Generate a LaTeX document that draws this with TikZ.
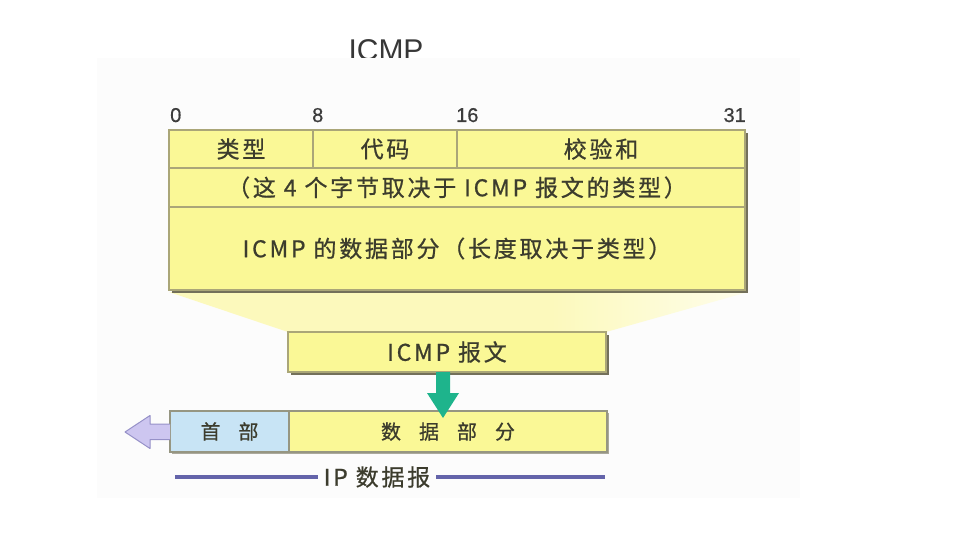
\documentclass[tikz,border=0pt]{standalone}
\usepackage{fontspec}
\setmainfont{Noto Sans CJK SC}[FakeBold=0.8]
\newfontfamily\cjkw[LetterSpace=12,FakeBold=0.8]{Noto Sans CJK SC}
\newfontfamily\lat{Liberation Sans}
\newfontfamily\latb[FakeBold=0.6]{Liberation Sans}
\usetikzlibrary{calc,backgrounds}
\definecolor{Yl}{RGB}{250,248,150}
\definecolor{Yp}{RGB}{252,249,188}
\definecolor{Bd}{RGB}{170,166,120}
\definecolor{Sh}{RGB}{115,112,90}
\definecolor{Tx}{RGB}{60,60,45}
\definecolor{Bl}{RGB}{200,228,245}
\definecolor{Gr}{RGB}{30,180,140}
\definecolor{Lv}{RGB}{205,198,240}
\definecolor{LvB}{RGB}{150,145,200}
\definecolor{Dm}{RGB}{100,100,170}
\definecolor{Bg}{RGB}{252,252,252}
\pgfdeclarehorizontalshading{trapfade}{100bp}{color(0bp)=(Yp); color(25bp)=(Yp); color(58bp)=(Yp); color(75bp)=(white!70!Yp); color(100bp)=(white!70!Yp)}
\tikzset{
  cell/.style={draw=Bd, line width=1.2pt, fill=Yl, inner sep=0pt, outer sep=0pt, anchor=north west,
    text=Tx, font=\cjkw\fontsize{23}{23}\selectfont},
  ipcell/.style={cell, draw={rgb,255:red,150;green,150;blue,130}, line width=1.5pt, font=\fontsize{20}{20}\selectfont},
  bitlbl/.style={inner sep=0pt, text={rgb,255:red,60;green,60;blue,60}, font=\latb\fontsize{20}{20}\selectfont},
  dimline/.style={draw=Dm, line width=3.5pt},
  shadowbox/.style={fill=Sh}
}
\begin{document}
\begin{tikzpicture}[x=1pt,y=-1pt]
\useasboundingbox (0,0) rectangle (960,540);
% shadows
\fill[shadowbox] (172,133) rectangle (748,293);
\fill[shadowbox] (291,335) rectangle (609,375);
\fill[Sh!60!white] (172,413) rectangle (609,454);
% main box
\node[cell, minimum width=144pt, minimum height=38pt] (r1a) at (169,130) {类型};
\node[cell, minimum width=144pt, minimum height=38pt] (r1b) at (313,130) {代码};
\node[cell, minimum width=288pt, minimum height=38pt] (r1c) at (457,130) {校验和};
\node[cell, minimum width=576pt, minimum height=39pt] (r2) at (169,168) {（这 4 个字节取决于 ICMP 报文的类型）};
\node[cell, minimum width=576pt, minimum height=83pt] (r3) at (169,207) {ICMP 的数据部分（长度取决于类型）};
% bit labels
\node[bitlbl, anchor=base west] (b0) at (170,122) {0};
\node[bitlbl, anchor=base west] (b8) at (312,122) {8};
\node[bitlbl, anchor=base west] (b16) at (456,122) {16};
\node[bitlbl, anchor=base east] (b31) at (746,122) {31};
% ICMP message box
\node[cell, minimum width=318pt, minimum height=40pt] (msg) at (288,332) {ICMP 报文};
% IP datagram
\node[ipcell, fill=Bl, minimum width=119pt, minimum height=41pt] (hdr) at (170,411) {首\hspace{0.9em}部};
\node[ipcell, minimum width=318pt, minimum height=41pt] (dat) at (289,411) {数\hspace{0.9em}据\hspace{0.9em}部\hspace{0.9em}分};
% background layer: title, picture background, trapezoid
\begin{scope}[on background layer]
  \node[anchor=base, inner sep=0pt, text={rgb,255:red,55;green,55;blue,55}, font=\lat\fontsize{30}{30}\selectfont] (title) at (386,61) {ICMP};
  \fill[Bg] (97,58) rectangle (800,498);
  \shade[shading=trapfade] ($(r3.south west)+(0,2)$) -- ($(r3.south east)+(3,2)$) -- (msg.north east) -- (msg.north west) -- cycle;
\end{scope}
% green arrow msg -> dat
\coordinate (ga) at ($(msg.south)+(-4,0)$);
\coordinate (gt) at ($(dat.north)+(-5,7)$);
\fill[Gr] ($(ga)+(-7,0)$) -- ($(ga)+(7,0)$) -- ($(ga)+(7,21)$) -- ($(ga)+(16,21)$) -- (gt) -- ($(ga)+(-16,21)$) -- ($(ga)+(-7,21)$) -- cycle;
% lavender arrow leaving header
\coordinate (lt) at (125,432);
\draw[fill=Lv, draw=LvB, line width=1pt, line join=round] ($(hdr.west)+(0,-7.5)$) -- ($(hdr.west)+(-20,-7.5)$) -- ($(hdr.west)+(-20,-16)$) -- (lt) -- ($(hdr.west)+(-20,17)$) -- ($(hdr.west)+(-20,8)$) -- ($(hdr.west)+(0,8)$);
% IP datagram dimension line
\node[inner xsep=6pt, inner ysep=0pt, text=Tx, font=\cjkw\fontsize{23}{23}\selectfont] (iplbl) at (377,477) {IP 数据报};
\coordinate (dl) at (175,477);
\coordinate (dr) at (605,477);
\draw[dimline] (dl) -- (iplbl.west);
\draw[dimline] (iplbl.east) -- (dr);
\end{tikzpicture}
\end{document}
